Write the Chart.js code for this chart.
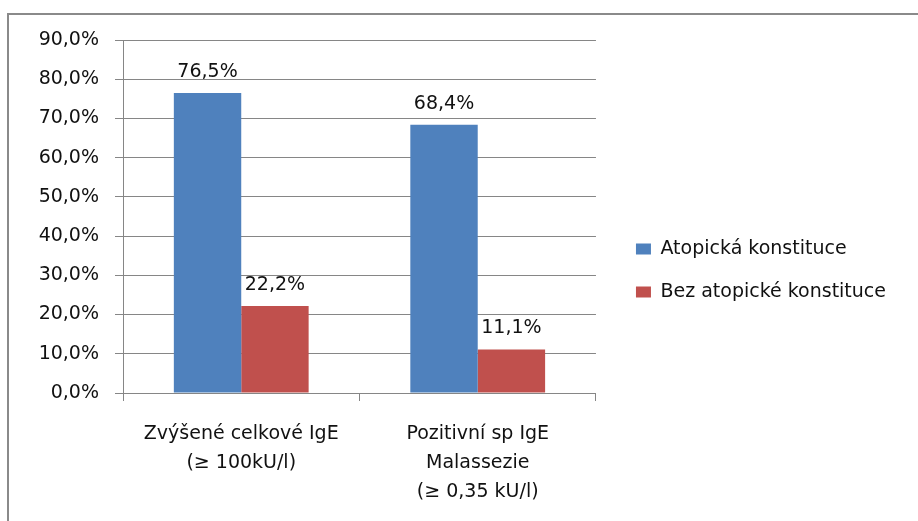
<!DOCTYPE html>
<html>
<head>
<meta charset="utf-8">
<script src="https://cdn.jsdelivr.net/npm/chart.js@4/dist/chart.umd.min.js"></script>
<style>
  html, body { margin: 0; padding: 0; background: #fff; }
  #wrap { position: relative; width: 918px; height: 521px; overflow: hidden; }
  #frame { position: absolute; left: 7px; top: 13px; width: 940px; height: 540px;
           border: 2px solid #8a8a8a; box-sizing: border-box; pointer-events: none; }
  canvas { position: absolute; left: 0; top: 0; }
</style>
</head>
<body>
<div id="wrap">
  <canvas id="c" width="918" height="521"></canvas>
  <div id="frame"></div>
</div>
<script>
// Categories (multi-line axis labels)
const categories = [
  ["Zvýšené celkové IgE", "(≥ 100kU/l)"],
  ["Pozitivní sp IgE", "Malassezie", "(≥ 0,35 kU/l)"]
];
// Series values in percent
const atopicka = [76.5, 68.4];
const bezAtopicke = [22.2, 11.1];
const seriesNames = ["Atopická konstituce", "Bez atopické konstituce"];
// Y axis ticks
const yMin = 0, yMax = 90, yStep = 10;

const FONT = "'DejaVu Sans', sans-serif";
const GRID = "#868686";

const fmt = v => v.toFixed(1).replace('.', ',') + '%';

// Draws each bar's value above it
const valueLabels = {
  id: 'valueLabels',
  afterDatasetsDraw(chart) {
    const ctx = chart.ctx;
    ctx.save();
    ctx.font = "19px " + FONT;
    ctx.fillStyle = "#111";
    ctx.textAlign = "center";
    ctx.textBaseline = "alphabetic";
    chart.data.datasets.forEach((ds, di) => {
      chart.getDatasetMeta(di).data.forEach((bar, i) => {
        ctx.fillText(fmt(ds.data[i]), bar.x, bar.y - 16);
      });
    });
    ctx.restore();
  }
};

new Chart(document.getElementById('c'), {
  type: 'bar',
  data: {
    labels: categories,
    datasets: [
      { label: seriesNames[0], data: atopicka, backgroundColor: '#4F81BD' },
      { label: seriesNames[1], data: bezAtopicke, backgroundColor: '#C0504D' }
    ]
  },
  options: {
    responsive: false,
    animation: false,
    devicePixelRatio: 1,
    layout: { padding: { left: 0, top: 40, right: 22, bottom: 20 } },
    datasets: { bar: { categoryPercentage: 0.57, barPercentage: 1.0 } },
    plugins: {
      legend: {
        position: 'right',
        maxWidth: 400,
        labels: {
          boxWidth: 15, boxHeight: 11, padding: 24,
          color: '#111',
          font: { family: FONT, size: 19 }
        }
      },
      tooltip: { enabled: false }
    },
    scales: {
      x: {
        grid: { display: true, drawOnChartArea: false, color: GRID, tickLength: 8, offset: true },
        border: { color: GRID, width: 1 },
        ticks: { color: '#111', padding: 19, maxRotation: 0, font: { family: FONT, size: 19, lineHeight: 1.52 } },
        afterFit(s) { s.height = 108; }
      },
      y: {
        min: yMin, max: yMax,
        grid: { color: GRID, tickLength: 8 },
        border: { color: GRID, width: 1 },
        ticks: { stepSize: yStep, color: '#111', padding: 16, font: { family: FONT, size: 19 },
                 callback: v => fmt(v) },
        afterFit(s) { s.width = 123; }
      },
      gap: {
        position: 'right', min: 0, max: 1,
        grid: { display: false }, border: { display: false },
        ticks: { display: false },
        afterFit(s) { s.width = 16; }
      }
    }
  },
  plugins: [valueLabels]
});
</script>
</body>
</html>
